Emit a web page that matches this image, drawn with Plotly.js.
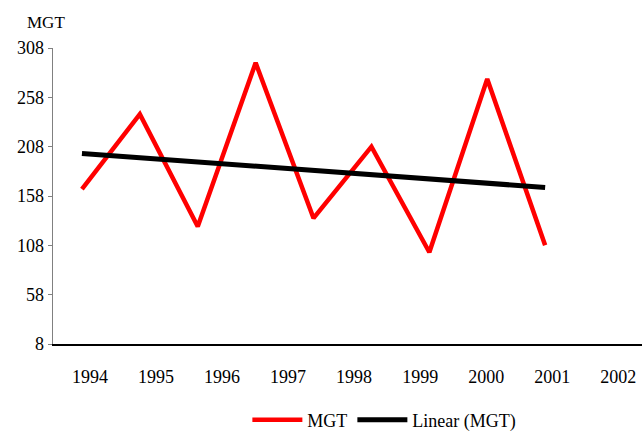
<!DOCTYPE html>
<html>
<head>
<meta charset="utf-8">
<script src="https://cdn.plot.ly/plotly-3.0.1.min.js"></script>
<style>html,body{margin:0;padding:0;background:#fff;}#chart{width:642px;height:434px;}</style>
</head>
<body>
<div id="chart"></div>
<script>
const years = ['1994','1995','1996','1997','1998','1999','2000','2001','2002'];
const yearNums = [1994,1995,1996,1997,1998,1999,2000,2001,2002];
const mgt = [165, 241, 127, 293, 135.5, 208, 101, 276.5, 108];
const yTicks = [8, 58, 108, 158, 208, 258, 308];

// Excel-style linear trendline (least squares on category index)
const n = mgt.length;
const idx = mgt.map((_, i) => i + 1);
const mx = idx.reduce((a, b) => a + b, 0) / n;
const my = mgt.reduce((a, b) => a + b, 0) / n;
let sxy = 0, sxx = 0;
idx.forEach((x, i) => { sxy += (x - mx) * (mgt[i] - my); sxx += (x - mx) * (x - mx); });
const slope = sxy / sxx;
const icpt = my - slope * mx;
const trend = idx.map(x => icpt + slope * x);

const FAM = 'Liberation Serif, Times New Roman, serif';
const font = {family: FAM, size: 18, color: '#000'};

const traces = [
  {x: yearNums, y: yearNums.map(() => null), type: 'scatter', mode: 'lines',
   showlegend: false, hoverinfo: 'skip', xaxis: 'x2', yaxis: 'y'},
  {x: years, y: mgt, type: 'scatter', mode: 'lines', name: 'MGT',
   line: {color: '#ff0000', width: 4.5}, xaxis: 'x', yaxis: 'y'},
  {x: years, y: trend, type: 'scatter', mode: 'lines', name: 'Linear (MGT)',
   line: {color: '#000000', width: 5}, xaxis: 'x', yaxis: 'y'}
];

const layout = {
  width: 642, height: 434,
  margin: {l: 53, r: 0, t: 48, b: 90},
  paper_bgcolor: '#fff', plot_bgcolor: 'rgba(0,0,0,0)',
  font: font,
  showlegend: true,
  legend: {orientation: 'h', x: 0.33, xanchor: 'left', yref: 'container', y: 0.032, yanchor: 'middle',
           font: font, itemwidth: 50, tracegroupgap: 0, bgcolor: 'rgba(0,0,0,0)'},
  xaxis: {type: 'category', domain: [0, 0.8847], anchor: 'y', range: [-0.5, 8.5],
          showticklabels: false, showline: false, showgrid: false, zeroline: false, ticks: ''},
  xaxis2: {type: 'linear', anchor: 'y', domain: [0, 1],
           range: [1993.44, 2002.36], tickvals: yearNums, ticktext: years,
           showline: true, linecolor: '#000', linewidth: 1.5, showgrid: false, zeroline: false,
           ticks: 'outside', ticklen: 16, tickcolor: 'rgba(0,0,0,0)', tickfont: font},
  yaxis: {range: [8, 308], anchor: 'x', tickvals: yTicks, ticktext: yTicks.map(String),
          showline: true, linecolor: '#808080', linewidth: 1.5, showgrid: false, zeroline: false,
          ticks: 'outside', ticklen: 4, tickcolor: '#808080', tickwidth: 1, tickfont: font},
  annotations: [{text: 'MGT', xref: 'paper', yref: 'paper', x: -0.012, y: 1.085,
                 xanchor: 'center', yanchor: 'middle', showarrow: false,
                 font: {family: FAM, size: 17, color: '#000'}}]
};

Plotly.newPlot('chart', traces, layout, {displayModeBar: false, staticPlot: true});
</script>
</body>
</html>
